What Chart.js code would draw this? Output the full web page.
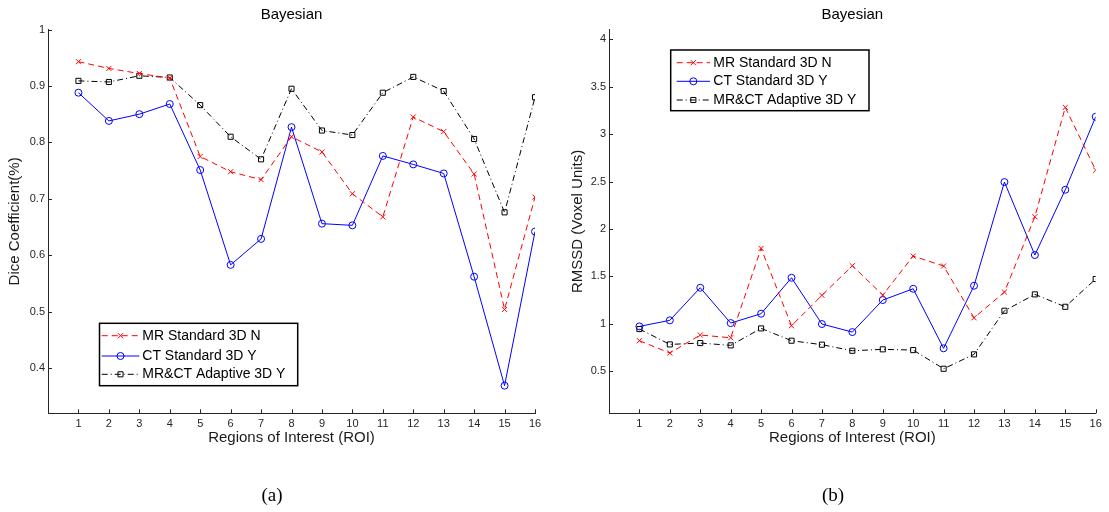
<!DOCTYPE html>
<html>
<head>
<meta charset="utf-8">
<script src="https://cdn.jsdelivr.net/npm/chart.js@4.4.0/dist/chart.umd.min.js"></script>
<style>
body { margin: 0; background: #fff; }
#wrap { position: relative; width: 1109px; height: 512px; background: #fff; }
#diceChart { position: absolute; left: 0; top: 0; }
#rmssdChart { position: absolute; left: 560px; top: 0; }
</style>
</head>
<body>
<div id="wrap">
    <canvas id="diceChart" width="560" height="512"></canvas>
    <canvas id="rmssdChart" width="549" height="512"></canvas>
</div>
<script>
// ROI numbers on the x axis
var roiLabels = [1, 2, 3, 4, 5, 6, 7, 8, 9, 10, 11, 12, 13, 14, 15, 16];

// (a) Dice coefficient
var diceMR = [0.943, 0.931, 0.922, 0.914, 0.775, 0.748, 0.734, 0.810, 0.783, 0.709, 0.668, 0.845, 0.819, 0.744, 0.504, 0.703];
var diceCT = [0.888, 0.838, 0.850, 0.868, 0.751, 0.583, 0.629, 0.827, 0.656, 0.653, 0.776, 0.761, 0.745, 0.562, 0.369, 0.642];
var diceAdaptive = [0.909, 0.907, 0.918, 0.915, 0.866, 0.810, 0.770, 0.895, 0.821, 0.813, 0.888, 0.916, 0.891, 0.806, 0.676, 0.880];
var diceTicks = [0.4, 0.5, 0.6, 0.7, 0.8, 0.9, 1];

// (b) RMSSD
var rmssdMR = [0.821, 0.691, 0.881, 0.852, 1.795, 0.979, 1.300, 1.612, 1.303, 1.714, 1.609, 1.063, 1.334, 2.129, 3.283, 2.621];
var rmssdCT = [0.972, 1.036, 1.380, 1.007, 1.106, 1.485, 0.997, 0.912, 1.250, 1.369, 0.741, 1.401, 2.495, 1.725, 2.414, 3.184];
var rmssdAdaptive = [0.944, 0.782, 0.796, 0.772, 0.951, 0.821, 0.779, 0.715, 0.730, 0.722, 0.525, 0.677, 1.137, 1.310, 1.179, 1.472];
var rmssdTicks = [0.5, 1, 1.5, 2, 2.5, 3, 3.5, 4];

var seriesNames = ["MR Standard 3D N", "CT Standard 3D Y", "MR&CT Adaptive 3D Y"];

Chart.defaults.font.family = '"Liberation Sans", Arial, Helvetica, sans-serif';
Chart.defaults.color = '#1a1a1a';

function toPoints(values) {
    var pts = [];
    for (var i = 0; i < values.length; i++) {
        pts.push({x: roiLabels[i], y: values[i]});
    }
    return pts;
}

function buildDatasets(mr, ct, adaptive) {
    return [
        {
            label: seriesNames[0],
            data: toPoints(mr),
            borderColor: "#ff0000",
            borderWidth: 1,
            borderDash: [6, 4],
            pointStyle: 'crossRot',
            pointRadius: 3.6,
            pointBorderColor: "#ff0000",
            pointBackgroundColor: "rgba(0,0,0,0)",
            pointBorderWidth: 1
        },
        {
            label: seriesNames[1],
            data: toPoints(ct),
            borderColor: "#0000ff",
            borderWidth: 1,
            borderDash: [],
            pointStyle: 'circle',
            pointRadius: 3.5,
            pointBorderColor: "#0000ff",
            pointBackgroundColor: "rgba(0,0,0,0)",
            pointBorderWidth: 1
        },
        {
            label: seriesNames[2],
            data: toPoints(adaptive),
            borderColor: "#000000",
            borderWidth: 1,
            borderDash: [6, 3, 1, 3],
            pointStyle: 'rect',
            pointRadius: 3.6,
            pointBorderColor: "#000000",
            pointBackgroundColor: "rgba(0,0,0,0)",
            pointBorderWidth: 1
        }
    ];
}

// matlab puts the tick marks inside the axes
var innerTicks = {
    id: 'innerTicks',
    afterDraw: function (chart) {
        var ctx = chart.ctx;
        var xs = chart.scales.x, ys = chart.scales.y;
        var area = chart.chartArea;
        ctx.save();
        ctx.strokeStyle = '#262626';
        ctx.lineWidth = 1;
        ctx.beginPath();
        xs.ticks.forEach(function (t) {
            var px = Math.round(xs.getPixelForValue(t.value)) + 0.5;
            ctx.moveTo(px, area.bottom);
            ctx.lineTo(px, area.bottom - 4);
        });
        ys.ticks.forEach(function (t) {
            var py = Math.round(ys.getPixelForValue(t.value)) + 0.5;
            ctx.moveTo(area.left, py);
            ctx.lineTo(area.left + 4, py);
        });
        ctx.stroke();
        ctx.restore();
    }
};

// legend box drawn inside the plot, matlab style
var insetLegend = {
    id: 'insetLegend',
    afterDraw: function (chart, args, opts) {
        var ctx = chart.ctx;
        ctx.save();
        ctx.fillStyle = '#fff';
        ctx.fillRect(opts.left, opts.top, opts.width, opts.height);
        ctx.lineWidth = 1.5;
        ctx.strokeStyle = '#000';
        ctx.setLineDash([]);
        ctx.strokeRect(opts.left, opts.top, opts.width, opts.height);
        var datasets = chart.data.datasets;
        for (var i = 0; i < datasets.length; i++) {
            var ds = datasets[i];
            var y = opts.rowY[i];
            ctx.beginPath();
            ctx.setLineDash(ds.borderDash);
            ctx.strokeStyle = ds.borderColor;
            ctx.lineWidth = ds.borderWidth;
            ctx.moveTo(opts.lineX[0], y);
            ctx.lineTo(opts.lineX[1], y);
            ctx.stroke();
            ctx.setLineDash([]);
            ctx.fillStyle = 'rgba(0,0,0,0)';
            ctx.strokeStyle = ds.pointBorderColor;
            ctx.lineWidth = 1;
            Chart.helpers.drawPoint(ctx, {
                pointStyle: ds.pointStyle,
                radius: ds.pointRadius,
                rotation: 0,
                borderWidth: 1
            }, (opts.lineX[0] + opts.lineX[1]) / 2, y);
            ctx.fillStyle = '#000';
            ctx.font = '14px "Liberation Sans", Arial, sans-serif';
            ctx.textBaseline = 'middle';
            ctx.textAlign = 'left';
            ctx.fillText(ds.label, opts.textX, y);
        }
        ctx.restore();
    }
};

// (a) / (b) under each panel
var caption = {
    id: 'caption',
    afterDraw: function (chart, args, opts) {
        var ctx = chart.ctx;
        ctx.save();
        ctx.fillStyle = '#000';
        ctx.font = '19px "Liberation Serif", "Times New Roman", serif';
        ctx.textAlign = 'center';
        ctx.textBaseline = 'middle';
        ctx.fillText(opts.text, opts.x, opts.y);
        ctx.restore();
    }
};

function renderPanel(canvasId, datasets, yMin, yMax, yTicks, yTitle, axisWidth, padRight, yTitlePad, legendOpts, captionOpts) {
    var elem = document.getElementById(canvasId);
    return new Chart(elem, {
        type: 'line',
        data: {datasets: datasets},
        plugins: [innerTicks, insetLegend, caption],
        options: {
            responsive: false,
            animation: false,
            elements: {line: {tension: 0, fill: false}},
            layout: {padding: {left: 0, right: padRight, top: 0, bottom: 60}},
            plugins: {
                legend: {display: false},
                tooltip: {enabled: false},
                title: {
                    display: true,
                    text: 'Bayesian',
                    fullSize: false,
                    color: '#000',
                    font: {size: 15, weight: 'normal'},
                    padding: {top: 6, bottom: 5.5}
                },
                insetLegend: legendOpts,
                caption: captionOpts
            },
            scales: {
                x: {
                    type: 'linear',
                    min: 0,
                    max: 16,
                    afterBuildTicks: function (scale) {
                        scale.ticks = roiLabels.map(function (v) { return {value: v}; });
                    },
                    afterFit: function (scale) { scale.height = 38.7; },
                    grid: {display: false, drawTicks: false},
                    border: {display: true, color: '#262626', width: 1},
                    ticks: {
                        font: {size: 11},
                        color: '#262626',
                        padding: 4,
                        maxRotation: 0,
                        autoSkip: false,
                        callback: function (v) { return String(v); }
                    },
                    title: {display: true, text: 'Regions of Interest (ROI)', font: {size: 15}, color: '#1a1a1a', padding: 5}
                },
                y: {
                    type: 'linear',
                    min: yMin,
                    max: yMax,
                    afterBuildTicks: function (scale) {
                        scale.ticks = yTicks.map(function (v) { return {value: v}; });
                    },
                    afterFit: function (scale) { scale.width = axisWidth; },
                    grid: {display: false, drawTicks: false},
                    border: {display: true, color: '#262626', width: 1},
                    ticks: {
                        font: {size: 11},
                        color: '#262626',
                        padding: 3,
                        callback: function (v) { return String(v); }
                    },
                    title: {display: true, text: yTitle, font: {size: 15}, color: '#1a1a1a', padding: yTitlePad}
                }
            }
        }
    });
}

renderPanel('diceChart', buildDatasets(diceMR, diceCT, diceAdaptive), 0.32, 1.0, diceTicks,
    'Dice Coefficient(%)', 48, 25, 6,
    {left: 99.5, top: 323.3, width: 198.2, height: 62.4, rowY: [335.7, 356, 374.3], lineX: [101.7, 139.3], textX: 142.3},
    {text: '(a)', x: 272, y: 496});

renderPanel('rmssdChart', buildDatasets(rmssdMR, rmssdCT, rmssdAdaptive), 0.055, 4.105, rmssdTicks,
    'RMSSD (Voxel Units)', 49, 13.3, 9,
    {left: 110.7, top: 50, width: 198.3, height: 60.7, rowY: [62.7, 81.3, 100], lineX: [116.7, 150], textX: 153.3},
    {text: '(b)', x: 273, y: 496});
</script>
</body>
</html>
